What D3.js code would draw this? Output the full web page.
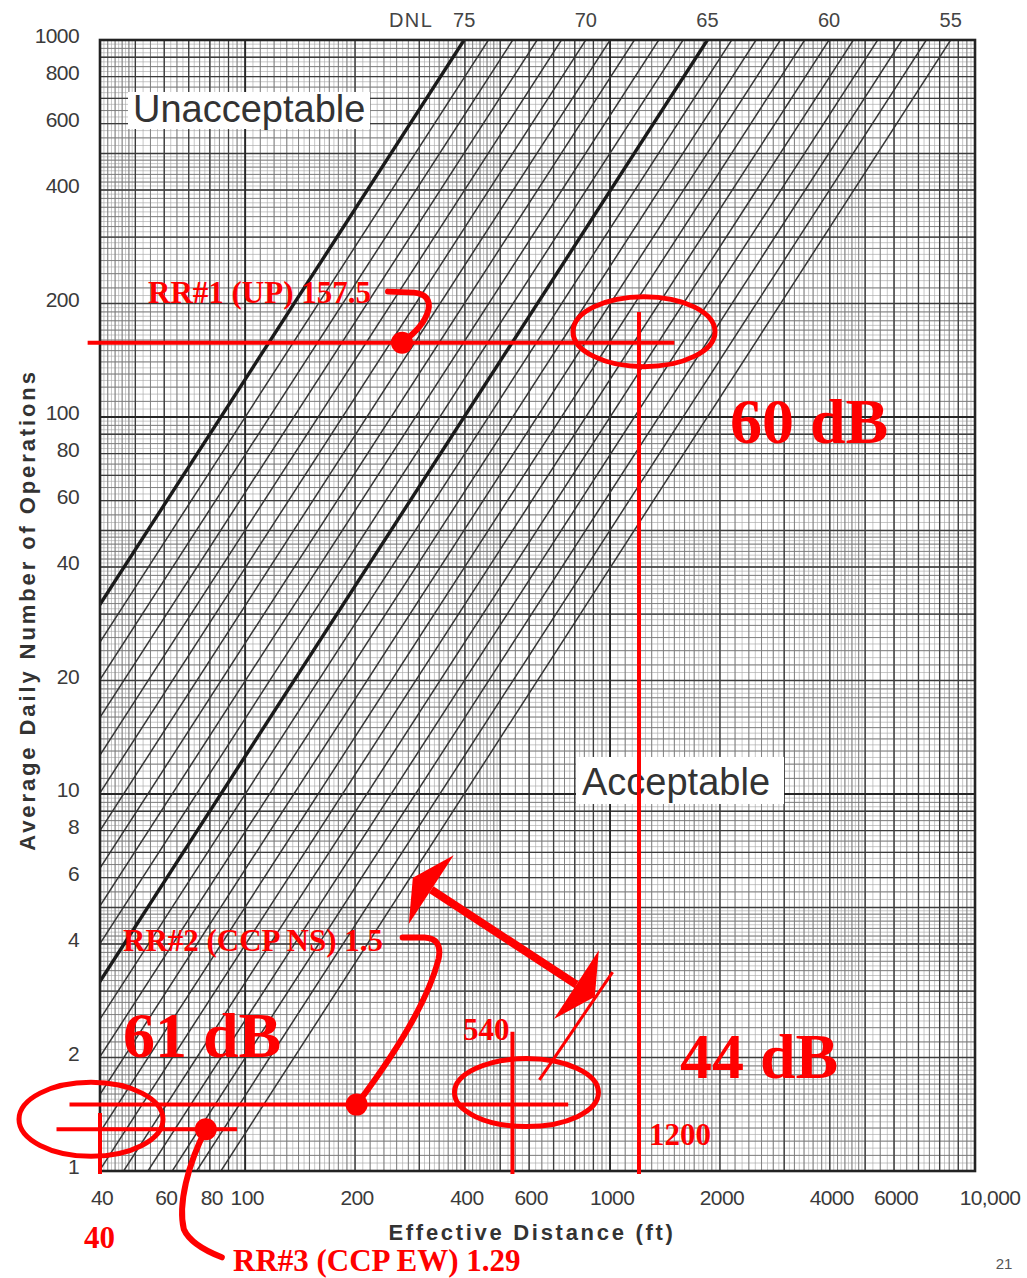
<!DOCTYPE html>
<html>
<head>
<meta charset="utf-8">
<script src="https://cdn.jsdelivr.net/npm/d3@7"></script>
<style>
  html, body { margin: 0; padding: 0; background: #fff; }
  svg { display: block; }
</style>
</head>
<body>
<svg id="chart" width="1027" height="1278"></svg>
<script>
// ---- Axis extents and tick labels ----
const distanceDomain = [40, 10000];
const operationsDomain = [1, 1000];
const distanceTicks = [40, 60, 80, 100, 200, 400, 600, 1000, 2000, 4000, 6000, 10000];
const distanceTickLabels = ["40", "60", "80", "100", "200", "400", "600", "1000", "2000", "4000", "6000", "10,000"];
const operationsTicks = [1, 2, 4, 6, 8, 10, 20, 40, 60, 80, 100, 200, 400, 600, 800, 1000];

// ---- DNL contours (dB): DNL = 10·log10(N) − 15·log10(D) + C ----
const dnlLevels = [55, 56, 57, 58, 59, 60, 61, 62, 63, 64, 65, 66, 67, 68, 69, 70, 71, 72, 73, 74, 75];
const dnlHeavy = [65, 75];
const dnlLabelled = [75, 70, 65, 60, 55];
const dnlConstant = 84.0;

// ---- Rail crossing cases ----
const caseNames = ["RR#1 (UP)", "RR#2 (CCP NS)", "RR#3 (CCP EW)"];
const caseOperations = [157.5, 1.5, 1.29];
const caseDistance = [269, 202, 78];              // point marked on each operations line
const caseSpan = [[37, 1500], [33, 768], [30.4, 95]]; // extent of each operations line (ft)
const markerDistances = [1200, 540, 40];
const markerTop = [190, 2.34, 1.425];             // upper end of each distance marker (ops)
const markerOps = [157.5, 1.5, 1.29];             // operations line each marker crosses
const resultLabels = ["60 dB", "44 dB", "61 dB"];
const arrowEnds = [[288, 6.0], [908, 2.9]];       // double arrow between cases (ft, ops)
const slashEnds = [[640, 1.744], [1016, 3.37]];

const RED = "#ff0000";
const svg = d3.select("#chart");

const x = d3.scaleLog().domain(distanceDomain).range([100, 975]);
const y = d3.scaleLog().domain(operationsDomain).range([1171, 40]);
const [x0, x1] = x.range();
const [y1, y0] = y.range();

svg.append("rect").attr("width", 1027).attr("height", 1278).attr("fill", "#fff");

svg.append("defs").append("clipPath").attr("id", "plot-clip")
  .append("rect").attr("x", x0).attr("y", y0).attr("width", x1 - x0).attr("height", y1 - y0);

// ---- log-paper grid ----
function gridValues(domain, mantissas) {
  const out = [];
  [1, 10, 100, 1000, 10000].forEach(dec => mantissas.forEach(m => {
    const v = +(dec * m).toPrecision(6);
    if (v >= domain[0] * 0.9999 && v <= domain[1] * 1.0001) out.push(v);
  }));
  return out;
}
const fineM = [...d3.range(1, 2, 0.05), ...d3.range(2, 5, 0.1), ...d3.range(5, 10, 0.25)];
const midM = [...d3.range(1, 2, 0.1), ...d3.range(2, 5, 0.2), ...d3.range(5, 10, 0.5)];
const majorM = [1, 2, 3, 4, 5, 6, 7, 8, 9];
const gridLevels = [
  { m: fineM, stroke: "#a9a9a9", w: 0.65 },
  { m: midM, stroke: "#777", w: 0.85 },
  { m: majorM, stroke: "#3c3c3c", w: 1.3 },
  { m: [1], stroke: "#262626", w: 1.8 }
];
const grid = svg.append("g").attr("clip-path", "url(#plot-clip)");
gridLevels.forEach(lv => {
  grid.append("g").selectAll("line").data(gridValues(distanceDomain, lv.m)).join("line")
    .attr("x1", d => x(d)).attr("x2", d => x(d)).attr("y1", y0).attr("y2", y1)
    .attr("stroke", lv.stroke).attr("stroke-width", lv.w);
  grid.append("g").selectAll("line").data(gridValues(operationsDomain, lv.m)).join("line")
    .attr("y1", d => y(d)).attr("y2", d => y(d)).attr("x1", x0).attr("x2", x1)
    .attr("stroke", lv.stroke).attr("stroke-width", lv.w);
});

// ---- white backing behind the zone captions ----
svg.append("rect").attr("x", 128).attr("y", 92).attr("width", 242).attr("height", 37).attr("fill", "#fff");
svg.append("rect").attr("x", 576).attr("y", 757).attr("width", 208).attr("height", 47).attr("fill", "#fff");

// ---- DNL contours ----
const opsAt = (dnl, d) => Math.pow(10, (dnl - dnlConstant + 15 * Math.log10(d)) / 10);
const contourLine = d3.line().x(p => x(p[0])).y(p => y(p[1]));
svg.append("g").attr("clip-path", "url(#plot-clip)")
  .selectAll("path").data(dnlLevels).join("path")
  .attr("d", dnl => contourLine([[10, opsAt(dnl, 10)], [30000, opsAt(dnl, 30000)]]))
  .attr("fill", "none")
  .attr("stroke", dnl => dnlHeavy.includes(dnl) ? "#1a1a1a" : "#363636")
  .attr("stroke-width", dnl => dnlHeavy.includes(dnl) ? 3.4 : 1.5);

// plot frame
svg.append("rect").attr("x", x0).attr("y", y0).attr("width", x1 - x0).attr("height", y1 - y0)
  .attr("fill", "none").attr("stroke", "#222").attr("stroke-width", 2.6);

// ---- zone captions ----
svg.append("text").attr("x", 133).attr("y", 122).text("Unacceptable")
  .attr("font-family", "Liberation Sans, Arial, sans-serif").attr("font-size", 38).attr("fill", "#333");
svg.append("text").attr("x", 582).attr("y", 795).text("Acceptable")
  .attr("font-family", "Liberation Sans, Arial, sans-serif").attr("font-size", 38).attr("fill", "#333");

// ---- DNL labels along the top ----
const topDistance = dnl => Math.pow(10, (30 - dnl + dnlConstant) / 15);
const topG = svg.append("g").attr("font-family", "Liberation Sans, Arial, sans-serif")
  .attr("font-size", 20).attr("fill", "#444").attr("text-anchor", "middle");
topG.selectAll("text").data(dnlLabelled).join("text")
  .attr("x", d => x(topDistance(d))).attr("y", 27).text(d => d);
topG.append("text").attr("x", x(topDistance(75)) - 53).attr("y", 27)
  .attr("letter-spacing", 1.5).text("DNL");

// ---- axes ----
const tickFont = "Liberation Sans, Arial, sans-serif";
svg.append("g").selectAll("text").data(operationsTicks).join("text")
  .attr("x", 79).attr("y", d => y(d) - 4).attr("dy", "0.35em")
  .attr("text-anchor", "end").attr("font-family", tickFont).attr("font-size", 21)
  .attr("fill", "#3a3a3a").attr("letter-spacing", -0.6).text(d => d);
svg.append("g").selectAll("text").data(distanceTicks).join("text")
  .attr("x", (d, i) => x(d) + (i === distanceTicks.length - 1 ? 15 : 2)).attr("y", 1205)
  .attr("text-anchor", "middle").attr("font-family", tickFont).attr("font-size", 21)
  .attr("fill", "#3a3a3a").attr("letter-spacing", -0.6).text((d, i) => distanceTickLabels[i]);

svg.append("text").attr("x", 532).attr("y", 1240).attr("text-anchor", "middle")
  .attr("font-family", tickFont).attr("font-weight", "bold").attr("font-size", 22)
  .attr("letter-spacing", 2.7).attr("fill", "#333").text("Effective Distance (ft)");
svg.append("text").attr("transform", "translate(27,610) rotate(-90)").attr("text-anchor", "middle")
  .attr("dy", "0.35em").attr("font-family", tickFont).attr("font-weight", "bold").attr("font-size", 22)
  .attr("letter-spacing", 2.9).attr("fill", "#333").text("Average Daily Number of Operations");

svg.append("text").attr("x", 1004).attr("y", 1269).attr("text-anchor", "middle")
  .attr("font-family", tickFont).attr("font-size", 15).attr("fill", "#555").text("21");

// ---- red annotations ----
const ann = svg.append("g");
const serif = "Liberation Serif, Times New Roman, serif";

// operations lines
ann.selectAll("line.ops").data(caseOperations).join("line").attr("class", "ops")
  .attr("x1", (d, i) => x(caseSpan[i][0])).attr("x2", (d, i) => x(caseSpan[i][1]))
  .attr("y1", d => y(d)).attr("y2", d => y(d))
  .attr("stroke", RED).attr("stroke-width", 4);

// distance markers
ann.selectAll("line.dist").data(markerDistances).join("line").attr("class", "dist")
  .attr("x1", d => x(d)).attr("x2", d => x(d))
  .attr("y1", (d, i) => y(markerTop[i])).attr("y2", y1 + 3)
  .attr("stroke", RED).attr("stroke-width", 4);

// ellipses around each reading
const ellipseOffsets = [[5, -11, 71, 35], [14, -12, 72, 34], [-9, -10, 72, 37]];
ann.selectAll("ellipse").data(markerDistances).join("ellipse")
  .attr("cx", (d, i) => x(d) + ellipseOffsets[i][0])
  .attr("cy", (d, i) => y(markerOps[i]) + ellipseOffsets[i][1])
  .attr("rx", (d, i) => ellipseOffsets[i][2]).attr("ry", (d, i) => ellipseOffsets[i][3])
  .attr("fill", "none").attr("stroke", RED).attr("stroke-width", 5);

// case points
const casePts = caseOperations.map((n, i) => [x(caseDistance[i]), y(n)]);
ann.selectAll("circle").data(casePts).join("circle")
  .attr("cx", d => d[0]).attr("cy", d => d[1]).attr("r", 11).attr("fill", RED);

// leaders from labels to points
const [p1, p2, p3] = casePts;
const leaders = [
  `M${p1[0] - 14},${p1[1] - 51} L${p1[0] + 12},${p1[1] - 50} C${p1[0] + 36},${p1[1] - 48} ${p1[0] + 30},${p1[1] - 22} ${p1[0]},${p1[1]}`,
  `M${p2[0] + 46},${p2[1] - 167} L${p2[0] + 68},${p2[1] - 167} Q${p2[0] + 86},${p2[1] - 166} ${p2[0] + 82},${p2[1] - 146} Q${p2[0] + 68},${p2[1] - 90} ${p2[0]},${p2[1]}`,
  `M${p3[0]},${p3[1]} C${p3[0] - 18},${p3[1] + 35} ${p3[0] - 28},${p3[1] + 75} ${p3[0] - 22},${p3[1] + 100} Q${p3[0] - 15},${p3[1] + 116} ${p3[0] + 16},${p3[1] + 128}`
];
ann.selectAll("path.leader").data(leaders).join("path").attr("class", "leader")
  .attr("d", d => d).attr("fill", "none").attr("stroke", RED)
  .attr("stroke-width", 6).attr("stroke-linecap", "round");

// case labels
const caseLabelPos = [[148, 303], [123, 951], [233, 1271]];
ann.selectAll("text.case").data(caseNames).join("text").attr("class", "case")
  .attr("x", (d, i) => caseLabelPos[i][0]).attr("y", (d, i) => caseLabelPos[i][1])
  .attr("font-family", serif).attr("font-weight", "bold").attr("font-size", 31)
  .attr("fill", RED).text((d, i) => `${d} ${caseOperations[i]}`);

// distance readings
ann.append("text").attr("x", x(1200) + 10).attr("y", 1145).text(markerDistances[0]);
ann.append("text").attr("x", x(540) - 3).attr("y", 1040).attr("text-anchor", "end").text(markerDistances[1]);
ann.append("text").attr("x", x(40) - 16).attr("y", 1248).text(markerDistances[2]);
ann.selectAll("text:not(.case)").attr("font-family", serif).attr("font-weight", "bold")
  .attr("font-size", 31).attr("fill", RED);

// resulting levels
const resultPos = [[730, 443], [680, 1078], [123, 1057]];
ann.selectAll("text.result").data(resultLabels).join("text").attr("class", "result")
  .attr("x", (d, i) => resultPos[i][0]).attr("y", (d, i) => resultPos[i][1])
  .attr("font-family", serif).attr("font-weight", "bold").attr("font-size", 64)
  .attr("fill", RED).text(d => d);

// double arrow
const a0 = [x(arrowEnds[0][0]), y(arrowEnds[0][1])];
const a1 = [x(arrowEnds[1][0]), y(arrowEnds[1][1])];
const len = Math.hypot(a1[0] - a0[0], a1[1] - a0[1]);
const ux = (a1[0] - a0[0]) / len, uy = (a1[1] - a0[1]) / len;
const headL = 22, headW = 41;
const b0 = [a0[0] + ux * headL, a0[1] + uy * headL];
const b1 = [a1[0] - ux * headL, a1[1] - uy * headL];
ann.append("line").attr("x1", b0[0]).attr("y1", b0[1]).attr("x2", b1[0]).attr("y2", b1[1])
  .attr("stroke", RED).attr("stroke-width", 8);
[[a0, b0], [a1, b1]].forEach(([tip, base]) => {
  ann.append("polygon").attr("fill", RED).attr("points", [
    tip,
    [base[0] - uy * headW, base[1] + ux * headW],
    [base[0] + uy * headW, base[1] - ux * headW]
  ].map(p => p.join(",")).join(" "));
});
ann.append("line")
  .attr("x1", x(slashEnds[0][0])).attr("y1", y(slashEnds[0][1]))
  .attr("x2", x(slashEnds[1][0])).attr("y2", y(slashEnds[1][1]))
  .attr("stroke", RED).attr("stroke-width", 3);
</script>
</body>
</html>
